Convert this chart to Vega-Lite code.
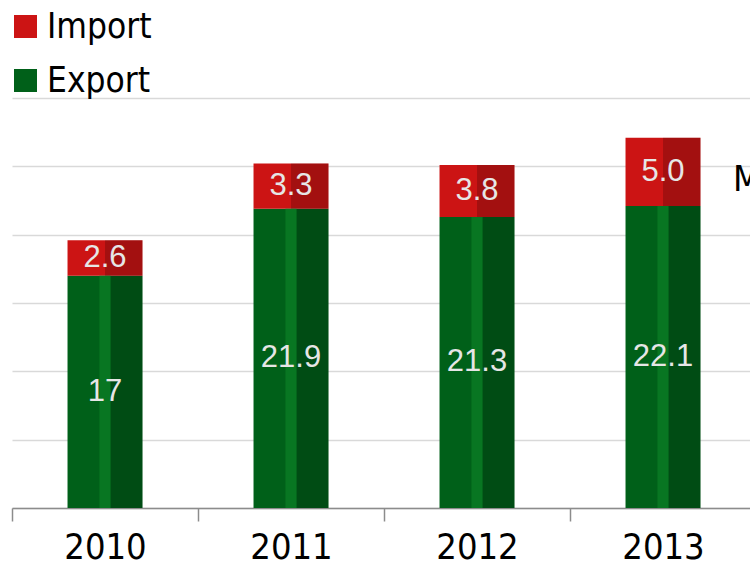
{
  "$schema": "https://vega.github.io/schema/vega-lite/v6.json",
  "width": 738,
  "height": 410,
  "autosize": "none",
  "padding": {"left": 12, "top": 98, "right": 0, "bottom": 59},
  "background": "white",
  "config": {"view": {"stroke": null}, "font": "DejaVu Sans Condensed, Liberation Sans, sans-serif"},
  "datasets": {
    "trade": [
      {"year": "2010", "series": "Export", "value": 17.0, "label": "17"},
      {"year": "2010", "series": "Import", "value": 2.6, "label": "2.6"},
      {"year": "2011", "series": "Export", "value": 21.9, "label": "21.9"},
      {"year": "2011", "series": "Import", "value": 3.3, "label": "3.3"},
      {"year": "2012", "series": "Export", "value": 21.3, "label": "21.3"},
      {"year": "2012", "series": "Import", "value": 3.8, "label": "3.8"},
      {"year": "2013", "series": "Export", "value": 22.1, "label": "22.1"},
      {"year": "2013", "series": "Import", "value": 5.0, "label": "5.0"}
    ],
    "note": [{"year": "2013", "v": 24, "note": "Mt"}]
  },
  "encoding": {
    "x": {
      "field": "year",
      "type": "ordinal",
      "scale": {"range": [0, 744], "paddingInner": 0, "paddingOuter": 0},
      "axis": {
        "title": null,
        "labelAngle": 0,
        "labelFontSize": 36,
        "labelFont": "DejaVu Sans Condensed, Liberation Sans, sans-serif",
        "labelColor": "#000000",
        "tickBand": "extent",
        "tickSize": 13,
        "tickColor": "#8c8c8c",
        "tickWidth": 1.5,
        "domainColor": "#8c8c8c",
        "domainWidth": 1.5,
        "labelPadding": 9,
        "grid": false
      }
    }
  },
  "layer": [
    {
      "data": {"name": "trade"},
      "transform": [
        {"stack": "value", "groupby": ["year"], "sort": [{"field": "series"}], "as": ["v0", "v1"]}
      ],
      "mark": {"type": "bar", "width": {"band": 0.403}},
      "encoding": {
        "y": {
          "field": "v0",
          "type": "quantitative",
          "scale": {"domain": [0, 30]},
          "axis": {
            "title": null,
            "values": [0, 5, 10, 15, 20, 25, 30],
            "labels": false,
            "ticks": false,
            "domain": false,
            "grid": true,
            "gridColor": "#d9d9d9",
            "gridWidth": 1.5
          }
        },
        "y2": {"field": "v1"},
        "color": {
          "field": "series",
          "type": "nominal",
          "scale": {"domain": ["Import", "Export"], "range": ["#cc1414", "#006019"]},
          "legend": {
            "title": null,
            "orient": "none",
            "legendX": -4,
            "legendY": -89,
            "symbolType": "square",
            "symbolSize": 529,
            "symbolStrokeWidth": 0,
            "labelFontSize": 35,
            "labelFont": "DejaVu Sans Condensed, Liberation Sans, sans-serif",
            "labelColor": "#000000",
            "labelOffset": 4,
            "rowPadding": 18,
            "padding": 0
          }
        }
      }
    },
    {
      "data": {"name": "trade"},
      "transform": [
        {"stack": "value", "groupby": ["year"], "sort": [{"field": "series"}], "as": ["v0", "v1"]}
      ],
      "mark": {"type": "bar", "width": {"band": 0.2015}, "xOffset": 18.75, "opacity": 0.2, "color": "#000000"},
      "encoding": {
        "y": {"field": "v0", "type": "quantitative"},
        "y2": {"field": "v1"}
      }
    },
    {
      "data": {"name": "trade"},
      "transform": [
        {"stack": "value", "groupby": ["year"], "sort": [{"field": "series"}], "as": ["v0", "v1"]},
        {"filter": "datum.series === 'Export'"}
      ],
      "mark": {"type": "bar", "width": {"band": 0.06}, "color": "#087622"},
      "encoding": {
        "y": {"field": "v0", "type": "quantitative"},
        "y2": {"field": "v1"}
      }
    },
    {
      "data": {"name": "trade"},
      "transform": [
        {"stack": "value", "groupby": ["year"], "sort": [{"field": "series"}], "as": ["v0", "v1"]},
        {"calculate": "(datum.v0 + datum.v1) / 2", "as": "mid"}
      ],
      "mark": {"type": "text", "font": "Liberation Sans", "fontSize": 31, "color": "#e6e6e6", "baseline": "middle"},
      "encoding": {
        "y": {"field": "mid", "type": "quantitative"},
        "text": {"field": "label"}
      }
    },
    {
      "data": {"name": "note"},
      "mark": {"type": "text", "align": "left", "baseline": "middle", "dx": 70, "fontSize": 36, "font": "DejaVu Sans Condensed, Liberation Sans, sans-serif", "color": "#000000"},
      "encoding": {
        "y": {"field": "v", "type": "quantitative"},
        "text": {"field": "note"}
      }
    }
  ]
}
